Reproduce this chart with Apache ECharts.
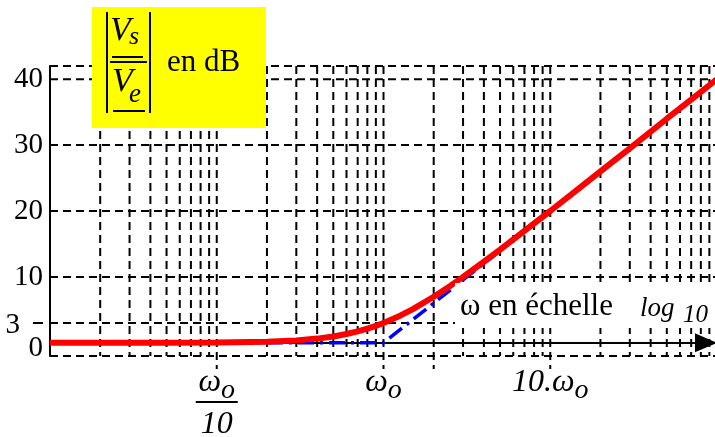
<!DOCTYPE html>
<html><head><meta charset="utf-8">
<script src="https://cdn.jsdelivr.net/npm/echarts@6/dist/echarts.min.js"></script>
<style>html,body{margin:0;padding:0;background:#fff}#c{width:715px;height:437px}</style>
</head><body><div id="c"></div>
<script>
// ---- data (ω / ω0, gain in dB) ----
const omegaRatio = [0.01, 0.02, 0.05, 0.1, 0.2, 0.3, 0.4, 0.5, 0.6, 0.7, 0.8, 0.9, 1, 1.2, 1.5, 2, 2.5, 3, 4, 5, 7, 10, 15, 20, 30, 50, 70, 100];
const gainDb     = [0, 0, 0.01, 0.04, 0.17, 0.37, 0.64, 0.97, 1.34, 1.73, 2.15, 2.58, 3.01, 3.87, 5.12, 6.99, 8.6, 10.0, 12.3, 14.15, 17.0, 20.0, 23.5, 26.0, 29.5, 34.0, 36.9, 40.0];
const asymRatio  = [0.01, 1, 100];
const asymDb     = [0, 0, 40];
const vGridRatio = [0.02,0.03,0.04,0.05,0.06,0.07,0.08,0.09,
                    0.1,0.2,0.3,0.4,0.5,0.6,0.7,0.8,0.9,
                    1,2,3,4,5,6,7,8,9,
                    10,20,30,40,50,60,70,80,90];
const vGridLong  = [0.1, 1, 2, 10];
const hGridDb    = [-2, 3, 10, 20, 30, 40, 42];
const yTickDb    = [0, 3, 10, 20, 30, 40];
const xRange     = [0.01, 100];
const yRange     = [-2, 42];

const SERIF = "'Liberation Serif', 'Times New Roman', serif";
const chart = echarts.init(document.getElementById('c'), null, {renderer: 'canvas'});

const dash = [8, 5];

function txt(x, y, text, size, italic, z) {
  return {type: 'text', z: z, x: x, y: y, style: {text: text, fontSize: size, fontFamily: SERIF,
    fontStyle: italic ? 'italic' : 'normal', fill: '#000', align: 'left', verticalAlign: 'middle'}};
}
function bar(x, y, w, h, z, fill) {
  return {type: 'rect', z: z, shape: {x: x, y: y, width: w, height: h}, style: {fill: fill || '#000'}};
}

const option = {
  animation: false,
  backgroundColor: '#ffffff',
  grid: {left: 50, top: 66, width: 667, height: 290, containLabel: false, outerBoundsMode: 'none'},
  xAxis: {
    type: 'log', logBase: 10, min: xRange[0], max: xRange[1],
    axisLine: {show: true, onZero: true, symbol: ['none', 'triangle'], symbolSize: [19, 22], symbolOffset: [0, -11],
      lineStyle: {color: '#000', width: 2}},
    axisTick: {show: false},
    splitLine: {show: false},
    minorTick: {show: false},
    axisLabel: {
      margin: 11,
      color: '#000',
      formatter: function (v) {
        const e = Math.round(Math.log10(v));
        if (e === -1) return '{w|ω}{o|o}\n{bar| }\n{d|10}';
        if (e === 0) return '{w|ω}{o|o}';
        if (e === 1) return '{w|10.ω}{o|o}';
        return '';
      },
      rich: {
        w: {fontFamily: SERIF, fontStyle: 'italic', fontSize: 32, lineHeight: 34, verticalAlign: 'top', color: '#000'},
        o: {fontFamily: SERIF, fontStyle: 'italic', fontSize: 28, lineHeight: 20, verticalAlign: 'top', padding: [10, 0, 0, 0], color: '#000'},
        bar: {fontSize: 2, width: 42, height: 2, lineHeight: 2, backgroundColor: '#000'},
        d: {fontFamily: SERIF, fontStyle: 'italic', fontSize: 32, lineHeight: 44, color: '#000'}
      }
    }
  },
  yAxis: {
    type: 'value', min: yRange[0], max: yRange[1],
    axisLine: {show: true, onZero: false, lineStyle: {color: '#000', width: 2}},
    axisTick: {show: true, customValues: [3], length: 17, lineStyle: {color: '#000', width: 2, type: [10, 7], dashOffset: 10}},
    splitLine: {show: false},
    axisLabel: {
      customValues: yTickDb,
      margin: 7,
      formatter: function (v) {
        if (v === 3) return '{t|3}';
        if (v === 0) return '{z|0}';
        return '{n|' + v + '}';
      },
      rich: {
        n: {fontFamily: SERIF, fontSize: 29, color: '#000'},
        t: {fontFamily: SERIF, fontSize: 29, color: '#000', padding: [4, 23, 0, 0]},
        z: {fontFamily: SERIF, fontSize: 29, color: '#000', padding: [12, 0, 0, 0]}
      }
    }
  },
  graphic: [
    bar(455, 283, 262, 45, 5, '#ffffff'),
    txt(460, 307, 'ω en échelle', 31, false, 6),
    txt(640, 309, 'log', 27, true, 6),
    txt(683, 315, '10', 25, true, 6),
    bar(92, 7, 174, 121, 20, '#ffff00'),
    bar(106, 12, 2, 101, 21),
    bar(149, 12, 2, 101, 21),
    txt(110, 31, 'V', 34, true, 21),
    txt(129, 37, 's', 26, true, 21),
    bar(112, 56, 31, 2, 21),
    bar(110, 61, 37, 2, 21),
    txt(112, 82, 'V', 34, true, 21),
    txt(129, 95, 'e', 27, true, 21),
    bar(113, 110, 32, 2, 21),
    txt(167, 63, 'en dB', 31, false, 21)
  ],
  series: [
    {
      type: 'custom', name: 'vgrid', z: 1, clip: false, silent: true,
      data: vGridRatio.map(f => [f, vGridLong.indexOf(f) >= 0 ? 1 : 0]),
      encode: {x: 0, y: 1},
      renderItem: function (params, api) {
        const f = api.value(0);
        const top = api.coord([f, yRange[1]]);
        const bot = api.coord([f, yRange[0]]);
        const ext = api.value(1) ? 13 : 0;
        return {type: 'line', shape: {x1: top[0], y1: top[1], x2: bot[0], y2: bot[1] + ext},
          style: {stroke: '#000', lineWidth: 2, lineDash: dash}};
      }
    },
    {
      type: 'custom', name: 'hgrid', z: 1, clip: false, silent: true,
      data: hGridDb.map(d => [1, d]),
      encode: {x: 0, y: 1},
      renderItem: function (params, api) {
        const d = api.value(1);
        const l = api.coord([xRange[0], d]);
        const r = api.coord([xRange[1], d]);
        return {type: 'line', shape: {x1: l[0], y1: l[1], x2: r[0], y2: r[1]},
          style: {stroke: '#000', lineWidth: 2, lineDash: dash}};
      }
    },
    {
      type: 'line', name: 'asymptote', z: 3, symbol: 'none', silent: true,
      data: asymRatio.map((x, i) => [x, asymDb[i]]),
      lineStyle: {color: '#0000ff', width: 3.5, type: [16, 6, 3, 6]}
    },
    {
      type: 'line', name: 'gain', z: 4, symbol: 'none', silent: true,
      data: omegaRatio.map((x, i) => [x, gainDb[i]]),
      lineStyle: {color: '#ff0000', width: 6}
    }
  ]
};
chart.setOption(option);
</script>
</body></html>
